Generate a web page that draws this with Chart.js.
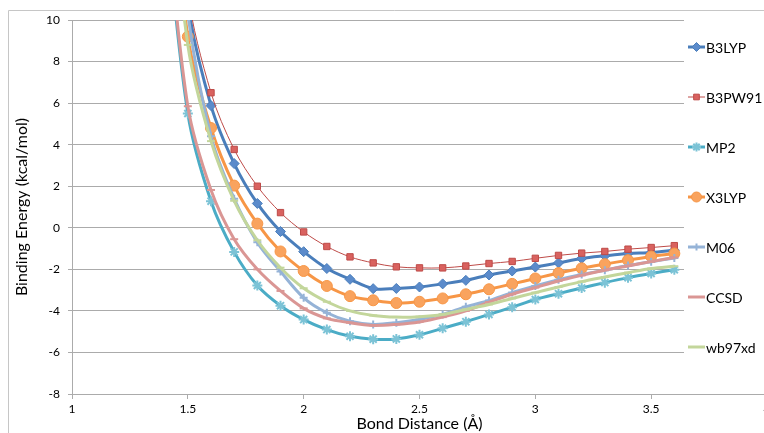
<!DOCTYPE html>
<html>
<head>
<meta charset="utf-8">
<script src="https://cdn.jsdelivr.net/npm/chart.js"></script>
<style>
    body { margin: 0; background: #fff; overflow: hidden; }
    #wrap { width: 764px; height: 433px; overflow: hidden; }
    canvas { display: block; background: #fff; }
</style>
</head>
<body>
<div id="wrap"><canvas id="chart" width="780" height="433"></canvas></div>
<script>
// bond distance (Å); first point lies above the visible range
let distances = [1.4, 1.5, 1.6, 1.7, 1.8, 1.9, 2.0, 2.1, 2.2, 2.3, 2.4, 2.5, 2.6, 2.7, 2.8, 2.9, 3.0, 3.1, 3.2, 3.3, 3.4, 3.5, 3.6]

let b3lyp = [22, 10.8, 5.88, 3.09, 1.17, -0.18, -1.15, -1.96, -2.48, -2.93, -2.92, -2.85, -2.7, -2.53, -2.27, -2.08, -1.89, -1.69, -1.48, -1.35, -1.24, -1.19, -1.08]
let b3pw91 = [23, 11.3, 6.5, 3.77, 2.0, 0.73, -0.2, -0.9, -1.4, -1.69, -1.88, -1.93, -1.93, -1.84, -1.72, -1.62, -1.47, -1.33, -1.22, -1.14, -1.03, -0.95, -0.86]
let mp2 = [15.5, 5.5, 1.28, -1.16, -2.78, -3.75, -4.42, -4.9, -5.22, -5.36, -5.35, -5.15, -4.84, -4.52, -4.17, -3.82, -3.45, -3.17, -2.9, -2.64, -2.4, -2.2, -2.02]
let x3lyp = [20, 9.2, 4.8, 2.03, 0.2, -1.14, -2.08, -2.8, -3.29, -3.49, -3.62, -3.56, -3.4, -3.2, -2.96, -2.7, -2.44, -2.18, -1.95, -1.75, -1.56, -1.38, -1.24]
let m06 = [21, 10.3, 4.4, 1.4, -0.7, -2.1, -3.37, -4.09, -4.5, -4.65, -4.57, -4.41, -4.17, -3.8, -3.5, -3.12, -2.8, -2.5, -2.25, -2.04, -1.82, -1.63, -1.45]
let ccsd = [16, 5.85, 1.82, -0.55, -2.0, -3.04, -3.88, -4.36, -4.57, -4.7, -4.65, -4.53, -4.3, -4.0, -3.58, -3.2, -2.88, -2.56, -2.29, -2.04, -1.84, -1.63, -1.43]
let wb97xd = [19.5, 8.8, 4.17, 1.3, -0.6, -1.92, -2.91, -3.56, -4.0, -4.22, -4.3, -4.28, -4.17, -3.93, -3.69, -3.4, -3.12, -2.85, -2.59, -2.37, -2.16, -1.96, -1.85]

let seriesNames = ["B3LYP", "B3PW91", "MP2", "X3LYP", "M06", "CCSD", "wb97xd"]
let seriesValues = [b3lyp, b3pw91, mp2, x3lyp, m06, ccsd, wb97xd]

let yTicks = [-8, -6, -4, -2, 0, 2, 4, 6, 8, 10]
let xTicks = [1, 1.5, 2, 2.5, 3, 3.5, 4]

let styles = [
    {line: "#4A7EBB", fill: "#5B8BCB", width: 3, point: "rectRot", r: 5},
    {line: "#BE4B48", fill: "#D9625F", width: 1, point: "rect", r: 4.5},
    {line: "#4BACC6", fill: "#7CC3D6", width: 3, point: "star", r: 5},
    {line: "#F79646", fill: "#F9A35E", width: 3, point: "circle", r: 5.5},
    {line: "#95B3D7", fill: "#95B3D7", width: 3, point: "cross", r: 4},
    {line: "#DA9694", fill: "#DA9694", width: 3, point: "line", r: 4},
    {line: "#C3D69B", fill: "#C3D69B", width: 3, point: "line", r: 4},
]

const FONT = "Lato, 'Open Sans', sans-serif"
const GRID = "#ababab"

let datasets = seriesNames.map((name, i) => {
    let st = styles[i]
    return {
        label: name,
        data: distances.map((x, j) => ({x: x, y: seriesValues[i][j]})),
        showLine: true,
        borderColor: st.line,
        borderWidth: st.width,
        backgroundColor: st.fill,
        pointStyle: st.point,
        pointRadius: st.r,
        pointBorderColor: st.point === "star" ? st.fill : st.line,
        pointBackgroundColor: st.fill,
        pointBorderWidth: st.point === "cross" || st.point === "line" || st.point === "star" ? 2 : 1,
        tension: 0.33,
        order: -i,
    }
})

const frame = {
    id: "frame",
    beforeDraw(chart) {
        let ctx = chart.ctx
        ctx.save()
        ctx.strokeStyle = "#c6c6c6"
        ctx.lineWidth = 1
        ctx.beginPath()
        ctx.moveTo(8.5, chart.height)
        ctx.lineTo(8.5, 10.5)
        ctx.lineTo(chart.width, 10.5)
        ctx.stroke()
        ctx.restore()
    }
}

// Excel style legend box laid over the right part of the plot
const sideLegend = {
    id: "sideLegend",
    afterDraw(chart) {
        let ctx = chart.ctx
        let area = chart.chartArea
        ctx.save()
        ctx.fillStyle = "#fff"
        ctx.fillRect(684, area.top - 2, chart.width - 684, area.bottom - area.top - 20)
        chart.data.datasets.forEach((ds, i) => {
            let y = 47 + i * 50
            ctx.strokeStyle = ds.borderColor
            ctx.lineWidth = ds.borderWidth
            ctx.beginPath()
            ctx.moveTo(688, y)
            ctx.lineTo(705, y)
            ctx.stroke()
            ctx.fillStyle = ds.pointBackgroundColor
            ctx.strokeStyle = ds.pointBorderColor
            ctx.lineWidth = ds.pointBorderWidth
            Chart.helpers.drawPoint(ctx, {pointStyle: ds.pointStyle, radius: ds.pointRadius - 0.5, rotation: 0, borderWidth: ds.pointBorderWidth}, 696.5, y)
            ctx.fillStyle = "#000"
            ctx.font = `14px ${FONT}`
            ctx.textBaseline = "middle"
            ctx.textAlign = "left"
            ctx.fillText(ds.label, 706, y + 1)
        })
        ctx.restore()
    }
}

new Chart(document.getElementById("chart"), {
    type: "scatter",
    data: {datasets: datasets},
    options: {
        responsive: false,
        animation: false,
        layout: {padding: {top: 20, left: 0, right: 13, bottom: 0}},
        plugins: {legend: {display: false}, tooltip: {enabled: false}},
        scales: {
            x: {
                type: "linear",
                min: 1,
                max: 4,
                afterFit: (scale) => { scale.height = 39 },
                afterBuildTicks: (scale) => { scale.ticks = xTicks.map(v => ({value: v})) },
                ticks: {color: "#000", font: {family: FONT, size: 12}, padding: 3, maxRotation: 0, callback: (v) => String(v)},
                grid: {drawOnChartArea: false, color: GRID, tickLength: 5},
                border: {color: GRID},
                title: {display: true, text: "Bond Distance (Å)", color: "#000", font: {family: FONT, size: 16}, padding: {top: 0, bottom: 0}},
            },
            y: {
                min: -8,
                max: 10,
                afterFit: (scale) => { scale.width = 72 },
                afterBuildTicks: (scale) => { scale.ticks = yTicks.map(v => ({value: v})) },
                ticks: {color: "#000", font: {family: FONT, size: 12}, padding: 8, callback: (v) => String(v)},
                grid: {color: GRID, tickLength: 4},
                border: {color: GRID},
                title: {display: true, text: "Binding Energy (kcal/mol)", color: "#000", font: {family: FONT, size: 16}, padding: {top: 12, bottom: 0}},
            }
        }
    },
    plugins: [frame, sideLegend]
})
</script>
</body>
</html>
